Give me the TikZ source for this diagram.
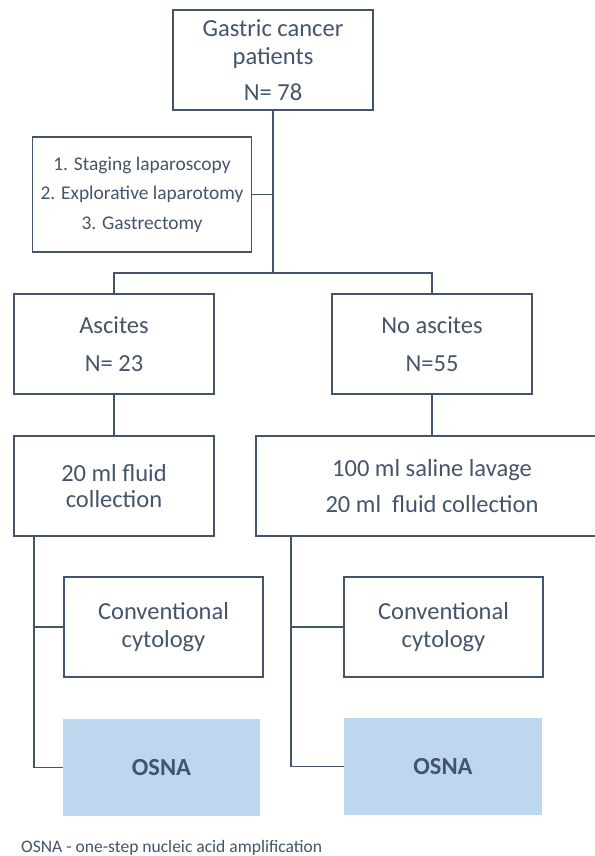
\documentclass[tikz,border=0pt]{standalone}
\usepackage{fontspec}
\setmainfont{Carlito}
\usepackage{tikz}
\usetikzlibrary{calc}
\definecolor{slate}{HTML}{44546A}
\definecolor{osnablue}{HTML}{BDD7EE}
\tikzset{
	flowbox/.style={draw=slate, line width=1.8pt, text=slate, align=center, inner sep=0pt,
		minimum width=200, minimum height=100, font=\fontsize{24.6}{28}\selectfont},
	osnabox/.style={fill=osnablue, text=slate, inner sep=0pt,
		minimum width=197, minimum height=97, font=\fontsize{24.6}{28}\selectfont\bfseries},
	link/.style={draw=slate, line width=1.8pt}
}

\begin{document}
\begin{tikzpicture}[x=1bp, y=-1bp]
\useasboundingbox (0, 0) rectangle (595, 856);

\node[flowbox] (patients) at (273, 60) {Gastric cancer\\patients\\[8pt]N= 78};
\node[flowbox, minimum width=220, minimum height=115, font=\fontsize{19.5}{29.5}\selectfont]
	(surgery) at (142, 194.5) {1. Staging laparoscopy\\2. Explorative laparotomy\\3. Gastrectomy};

\node[flowbox] (ascites) at (114, 344) {Ascites\\[10pt]N= 23};
\node[flowbox] (noascites) at (432, 344) {No ascites\\[10pt]N=55};

\node[flowbox, font=\fontsize{24.6}{26}\selectfont] (fluidA) at (114, 486) {20 ml fluid\\collection};
\node[flowbox, minimum width=354] (fluidB) at (432, 486) {100 ml saline lavage\\[8pt]20 ml\ \ fluid collection};

\node[flowbox, minimum width=199] (cytoA) at (163.5, 627) {Conventional\\cytology};
\node[flowbox, minimum width=199] (cytoB) at (443.5, 627) {Conventional\\cytology};

\node[osnabox] (osnaA) at (161.5, 767.5) {OSNA};
\node[osnabox, minimum width=198] (osnaB) at (443, 766.5) {OSNA};

\node[anchor=west, text=slate, inner sep=0pt, font=\fontsize{17.6}{20}\selectfont]
	(note) at (21, 848) {OSNA - one-step nucleic acid amplification};

% tree
\coordinate (split) at (273, 273);
\coordinate (stemA) at (34, 536);
\coordinate (stemB) at (291, 536);

\draw[link] (patients.south) -- (split);
\draw[link] (surgery.east) -- (surgery.east -| split);
\draw[link] (ascites.north) |- (split) -| (noascites.north);
\draw[link] (ascites.south) -- (fluidA.north);
\draw[link] (noascites.south) -- (fluidB.north);

\draw[link] (stemA) |- (osnaA.west);
\draw[link] (stemA |- cytoA.west) -- (cytoA.west);
\draw[link] (stemB) |- (osnaB.west);
\draw[link] (stemB |- cytoB.west) -- (cytoB.west);
\end{tikzpicture}
\end{document}
